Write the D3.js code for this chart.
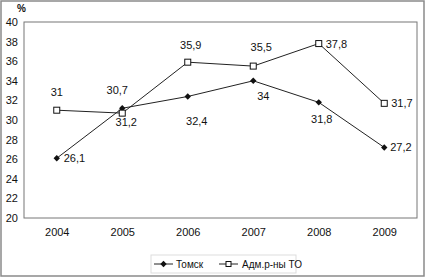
<!DOCTYPE html>
<html>
<head>
<meta charset="utf-8">
<script src="https://cdn.jsdelivr.net/npm/d3@7"></script>
<style>
  body { margin: 0; background: #fff; }
  svg { display: block; }
</style>
</head>
<body>
<div id="chart"></div>
<script>
const years = ["2004", "2005", "2006", "2007", "2008", "2009"];
const tomsk = [26.1, 31.2, 32.4, 34, 31.8, 27.2];
const admTO = [31, 30.7, 35.9, 35.5, 37.8, 31.7];
// label text as printed on the chart (the 2005 pair sits swapped)
const tomskLabels = ["26,1", "31,2", "32,4", "34", "31,8", "27,2"];
const admLabels = ["31", "30,7", "35,9", "35,5", "37,8", "31,7"];
const yTicks = [20, 22, 24, 26, 28, 30, 32, 34, 36, 38, 40];
const seriesNames = ["Томск", "Адм.р-ны ТО"];

const W = 426, H = 280;
const margin = { top: 22, right: 9, bottom: 62, left: 24 },
	width = W - margin.left - margin.right,
	height = H - margin.top - margin.bottom;

const root = d3.select("#chart").append("svg").attr("width", W).attr("height", H);

// outer frame
root.append("rect")
	.attr("x", 1).attr("y", 1)
	.attr("width", W - 3).attr("height", H - 5)
	.attr("fill", "#fff").attr("stroke", "#8a8a8a").attr("stroke-width", 1.5);

const svg = root.append("g").attr("transform", `translate(${margin.left},${margin.top})`);

const x = d3.scalePoint().domain(years).range([0, width]).padding(0.5);
const y = d3.scaleLinear().domain([20, 40]).range([height, 0]);

const font = "11px Arial, 'Liberation Sans', sans-serif";

// y axis labels
svg.append("g")
	.call(d3.axisLeft(y).tickValues(yTicks).tickSize(0).tickPadding(6))
	.call((g) => g.select(".domain").remove())
	.call((g) => g.selectAll("text").style("font", font).attr("fill", "#111"));

// x axis labels
svg.append("g")
	.attr("transform", `translate(0,${height})`)
	.call(d3.axisBottom(x).tickSize(0).tickPadding(10))
	.call((g) => g.select(".domain").remove())
	.call((g) => g.selectAll("text").style("font", font).attr("fill", "#111"));

// plot frame
svg.append("rect")
	.attr("x", 0).attr("y", 0)
	.attr("width", width).attr("height", height)
	.attr("fill", "none").attr("stroke", "#777").attr("stroke-width", 1);

root.append("text")
	.attr("x", 17).attr("y", 12)
	.style("font", "bold 10px Arial, 'Liberation Sans', sans-serif")
	.attr("fill", "#111")
	.text("%");

const line = d3.line().x((d, i) => x(years[i])).y((d) => y(d));

svg.append("path").datum(admTO)
	.attr("d", line).attr("fill", "none").attr("stroke", "#222").attr("stroke-width", 1);
svg.append("path").datum(tomsk)
	.attr("d", line).attr("fill", "none").attr("stroke", "#222").attr("stroke-width", 1);

// small rotated square marker
const diamond = "M0,-3.2L3.2,0L0,3.2L-3.2,0Z";

svg.selectAll(".pt-tomsk")
	.data(tomsk)
	.enter()
	.append("path")
	.attr("d", diamond)
	.attr("transform", (d, i) => `translate(${x(years[i])},${y(d)})`)
	.attr("fill", "#111");

svg.selectAll(".pt-adm")
	.data(admTO)
	.enter()
	.append("rect")
	.attr("x", (d, i) => x(years[i]) - 3)
	.attr("y", (d) => y(d) - 3)
	.attr("width", 6).attr("height", 6)
	.attr("fill", "#fff").attr("stroke", "#111").attr("stroke-width", 1);

// data labels: offsets per point as they appear
const tomskOff = [[7, 4, "start"], [4, 18, "middle"], [9, 29, "middle"], [10, 19, "middle"], [3, 21, "middle"], [6, 4, "start"]];
const admOff = [[0, -14, "middle"], [-5, -19, "middle"], [3, -13, "middle"], [8, -15, "middle"], [7, 4, "start"], [7, 4, "start"]];

svg.selectAll(".lb-tomsk")
	.data(tomsk)
	.enter()
	.append("text")
	.attr("x", (d, i) => x(years[i]) + tomskOff[i][0])
	.attr("y", (d, i) => y(d) + tomskOff[i][1])
	.attr("text-anchor", (d, i) => tomskOff[i][2])
	.style("font", font).attr("fill", "#111")
	.text((d, i) => tomskLabels[i]);

svg.selectAll(".lb-adm")
	.data(admTO)
	.enter()
	.append("text")
	.attr("x", (d, i) => x(years[i]) + admOff[i][0])
	.attr("y", (d, i) => y(d) + admOff[i][1])
	.attr("text-anchor", (d, i) => admOff[i][2])
	.style("font", font).attr("fill", "#111")
	.text((d, i) => admLabels[i]);

// legend
const lg = root.append("g").attr("transform", "translate(151,255)");
lg.append("rect").attr("width", 145).attr("height", 18)
	.attr("fill", "#fff").attr("stroke", "#ddd");
lg.append("line").attr("x1", 3).attr("x2", 22).attr("y1", 9).attr("y2", 9).attr("stroke", "#222");
lg.append("path").attr("d", diamond).attr("transform", "translate(12.5,9)").attr("fill", "#111");
lg.append("text").attr("x", 25).attr("y", 13).style("font", "10px Arial, 'Liberation Sans', sans-serif").attr("fill", "#111").text(seriesNames[0]);
lg.append("line").attr("x1", 68).attr("x2", 87).attr("y1", 9).attr("y2", 9).attr("stroke", "#222");
lg.append("rect").attr("x", 75).attr("y", 6.5).attr("width", 5).attr("height", 5).attr("fill", "#fff").attr("stroke", "#111");
lg.append("text").attr("x", 91).attr("y", 13).style("font", "10px Arial, 'Liberation Sans', sans-serif").attr("fill", "#111").text(seriesNames[1]);
</script>
</body>
</html>
